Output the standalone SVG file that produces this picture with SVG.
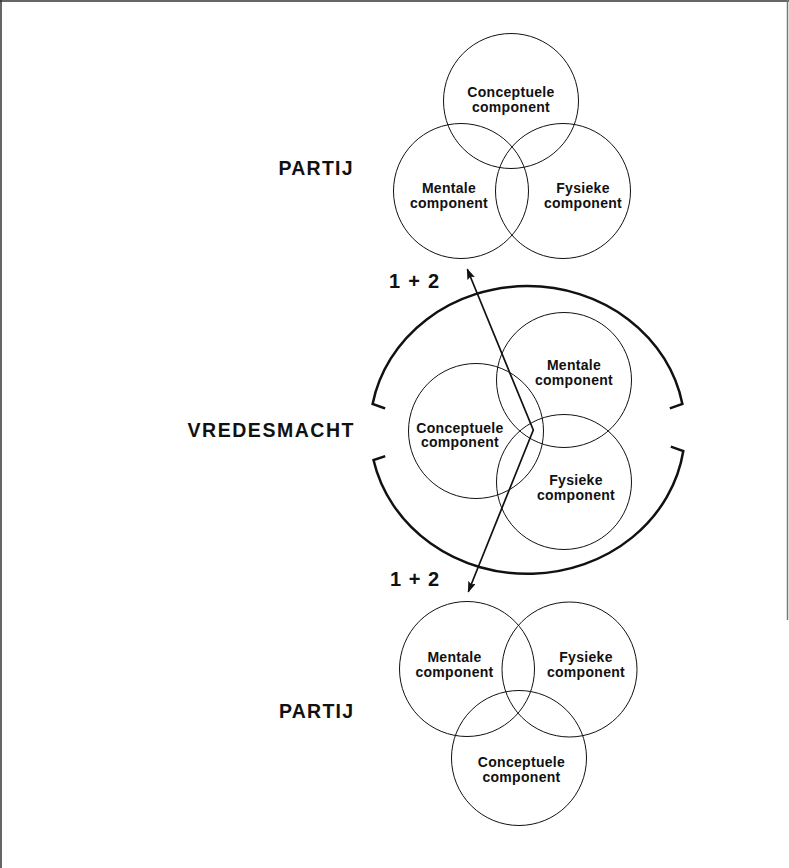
<svg xmlns="http://www.w3.org/2000/svg" width="789" height="868" viewBox="0 0 789 868">
  <style>
    .c { fill: none; stroke: #111; stroke-width: 1; }
    .t { font-family: "Liberation Sans", Arial, Helvetica, sans-serif; font-weight: bold; font-size: 14px; letter-spacing: 0.3px; fill: #111; text-anchor: middle; }
    .lbl { font-family: "Liberation Sans", Arial, Helvetica, sans-serif; font-weight: bold; font-size: 19.5px; fill: #111; }
    .num { font-family: "Liberation Sans", Arial, Helvetica, sans-serif; font-weight: bold; font-size: 20px; fill: #111; }
    .ring { fill: none; stroke: #111; stroke-width: 2.5; stroke-linecap: square; }
    .arrow { fill: none; stroke: #111; stroke-width: 1.7; stroke-linejoin: miter; }
  </style>
  <defs>
    <marker id="ah" markerUnits="userSpaceOnUse" markerWidth="11" markerHeight="8" refX="10" refY="4" orient="auto-start-reverse">
      <path d="M0,0 L11,4 L0,8 L2,4 z" fill="#111"/>
    </marker>
  </defs>
  <rect width="789" height="868" fill="#fff"/>
  <g id="frame" stroke="#333" stroke-width="1.5">
    <line x1="1" y1="0" x2="1" y2="868"/>
    <line x1="0" y1="1" x2="789" y2="1"/>
    <line x1="787.5" y1="0" x2="787.5" y2="620" stroke="#777"/>
  </g>

  <!-- top party -->
  <g id="partij-top-label"><text class="lbl" x="278.5" y="175" textLength="74" lengthAdjust="spacing">PARTIJ</text></g>
  <g id="top-conceptuele">
    <circle class="c" cx="511" cy="101" r="67.5"/>
    <text class="t" x="511" y="97">Conceptuele</text>
    <text class="t" x="511" y="112">component</text>
  </g>
  <g id="top-mentale">
    <circle class="c" cx="461" cy="191" r="67.5"/>
    <text class="t" x="449" y="193">Mentale</text>
    <text class="t" x="449" y="208">component</text>
  </g>
  <g id="top-fysieke">
    <circle class="c" cx="563" cy="191" r="67.5"/>
    <text class="t" x="583" y="193">Fysieke</text>
    <text class="t" x="583" y="208">component</text>
  </g>

  <!-- peace force -->
  <g id="vredesmacht-label"><text class="lbl" x="187.5" y="437" textLength="166" lengthAdjust="spacing">VREDESMACHT</text></g>
  <g id="vredesmacht-ring">
    <path class="ring" d="M384,408 L372.6,404 A157.5,144 0 0 1 682.4,404 L671,408"/>
    <path class="ring" d="M384,456.5 L373.5,460 A157.5,144 0 0 0 683.3,451 L672,447"/>
  </g>
  <g id="mid-mentale">
    <circle class="c" cx="564" cy="380" r="67.5"/>
    <text class="t" x="574" y="370">Mentale</text>
    <text class="t" x="574" y="385">component</text>
  </g>
  <g id="mid-conceptuele">
    <circle class="c" cx="476" cy="431" r="67.5"/>
    <text class="t" x="460" y="432.5">Conceptuele</text>
    <text class="t" x="460" y="447">component</text>
  </g>
  <g id="mid-fysieke">
    <circle class="c" cx="564" cy="482" r="67.5"/>
    <text class="t" x="576" y="485">Fysieke</text>
    <text class="t" x="576" y="500">component</text>
  </g>

  <!-- bottom party -->
  <g id="partij-bottom-label"><text class="lbl" x="279" y="718" textLength="74" lengthAdjust="spacing">PARTIJ</text></g>
  <g id="bottom-mentale">
    <circle class="c" cx="467" cy="669" r="67.5"/>
    <text class="t" x="454.5" y="662">Mentale</text>
    <text class="t" x="454.5" y="677">component</text>
  </g>
  <g id="bottom-fysieke">
    <circle class="c" cx="569.5" cy="669.5" r="67.5"/>
    <text class="t" x="586" y="662">Fysieke</text>
    <text class="t" x="586" y="677">component</text>
  </g>
  <g id="bottom-conceptuele">
    <circle class="c" cx="519" cy="758" r="67.5"/>
    <text class="t" x="521.5" y="767">Conceptuele</text>
    <text class="t" x="521.5" y="782">component</text>
  </g>

  <!-- connectors -->
  <g id="connectors">
    <polyline class="arrow" points="467.3,269.3 533.3,430 468.3,591.7" marker-start="url(#ah)" marker-end="url(#ah)"/>
    <text class="num" x="389" y="288" textLength="50" lengthAdjust="spacing">1 + 2</text>
    <text class="num" x="390" y="586" textLength="49" lengthAdjust="spacing">1 + 2</text>
  </g>
</svg>
